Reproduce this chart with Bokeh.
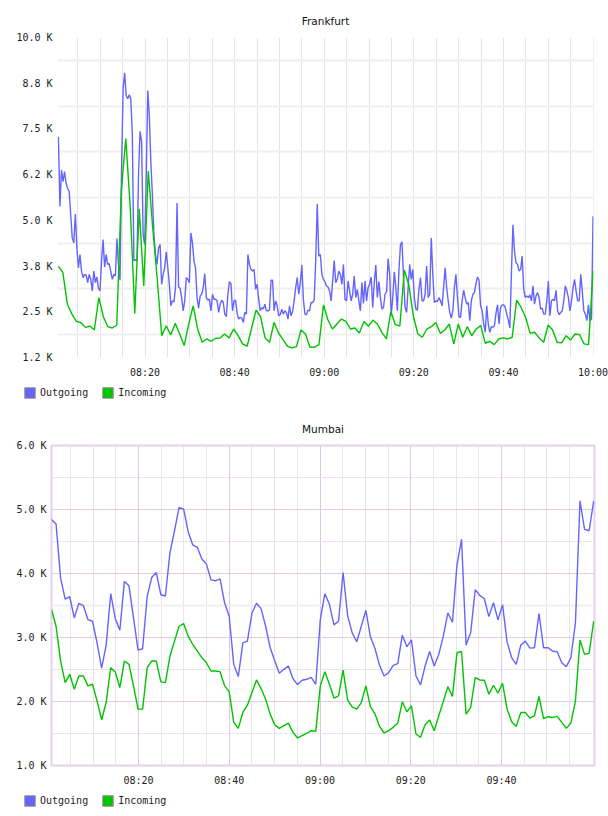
import numpy as np
import pandas as pd
from bokeh.plotting import figure
from bokeh.models import (Range1d, FixedTicker, DatetimeTickFormatter, Grid,
                          Legend, LegendItem)
from bokeh.embed import file_html
from bokeh.resources import INLINE

DAY = "2024-01-01"

# ---------------- data: Frankfurt ----------------
fra_outgoing = [
    7283, 5380, 6377, 6060, 6331, 6014, 5879, 5788, 5154, 4520,
    4384, 5172, 4248, 3705, 4067, 3614, 3433, 3524, 3505, 3297,
    3524, 3388, 3071, 3614, 3297, 3451, 3143, 3071, 3886, 4475,
    3723, 4067, 3795, 3813, 3596, 3388, 3524, 3478, 4502, 3795,
    3361, 6422, 8596, 9031, 8415, 8324, 8433, 8324, 7328, 3886,
    3931, 3886, 6241, 7437, 7147, 4610, 4339, 6151, 8551, 7871,
    6603, 5697, 4610, 4067, 3795, 4248, 4339, 3252, 3524, 3705,
    4139, 3705, 3252, 2663, 2799, 2772, 3161, 5471, 3179, 3143,
    2889, 2527, 2799, 3433, 3388, 3297, 4656, 4384, 3886, 3705,
    2889, 2600, 2935, 2980, 3161, 3542, 2889, 2817, 2844, 2527,
    2980, 2844, 2844, 2799, 2482, 2708, 2817, 2754, 2437, 2364,
    2980,
    3324, 3270, 2527, 2799, 2817, 2455, 2301, 2346, 2328, 2210,
    2482, 2437, 4067, 3795, 3659, 3614, 3659, 3116, 3252, 2844,
    2527, 2618, 2573, 2708, 2527, 2527, 2545, 3361, 3361, 2527,
    2799, 2663, 2391, 2418, 2573, 2437, 2527, 2482, 2301, 2663,
    2391, 2509, 2799, 3161, 3433, 2980, 3297, 3777, 2844, 2437,
    2418, 2545, 2527, 2754, 2754, 2817, 3886, 5444, 4022, 4067,
    3524, 3388, 3324, 3206, 3179, 3071, 2799, 3343, 3904, 3297,
    3388, 3614, 3524, 3252, 3795, 2844, 2799, 3343, 3071, 2799,
    2980, 3478, 2889, 3116, 2799, 2527, 3297, 2726, 3343, 2799,
    3161, 3252, 3451, 2618, 3297, 3777, 2889, 3324, 2889, 2573,
    2618, 2980, 3052, 3958, 3524, 2391, 2889, 3596, 3161, 2527,
    3614, 4339, 4411, 3433, 2618, 2482, 3161,
    3796, 3388, 3660, 2889, 2573, 2545, 3116, 3433, 2799, 2799,
    2980, 3750, 2889, 2980, 4520, 3524, 2754, 2799, 2781, 2889,
    2799, 2663, 3161, 3705, 3161, 2799, 2482, 2328, 2527, 3161,
    3524, 2889, 2364, 2346, 2799, 3089, 2889, 2708, 2754, 2256,
    2799, 2980, 3025, 3270, 3451, 3361, 2663, 2527, 2183, 1939,
    2663, 2165, 1939, 2093, 2074, 2120, 2455, 2690, 2165, 2618,
    2690, 2690, 2618, 2437, 2274, 2057, 3524, 4882, 4158, 3841,
    3796, 3614, 3660, 4022, 3116, 2889, 2935, 2889, 2962, 2799,
    3207, 2708, 2935, 3025, 2889, 2573, 2600, 2437, 2437, 2799,
    3343, 2391, 2799, 2844, 2799, 3089, 2527, 2418, 2482, 2527,
    2799, 3207, 3071, 2889, 2527, 2781, 3161, 3388, 3071, 2799,
    2799, 3524, 3071, 2527, 2437, 2256, 2690, 2256, 2301, 5109,
]
fra_incoming = [
    3750, 3569, 2708, 2437, 2237, 2201, 2074, 2110, 2002, 2889,
    2364, 2093, 2057, 2138, 5788, 7237, 5335, 2455, 5317, 3207,
    6350, 4792, 3388, 1848, 2120, 1866, 2183, 1893, 1576, 2165,
    2663, 2029, 1667, 1757, 1694, 1776, 1784, 1893, 1785, 2029,
    1848,
    1621, 1558, 2050, 2545, 2364, 1785, 1667, 2210, 1920, 1739,
    1558, 1513, 1549, 2002, 1893, 1531, 1531, 1603, 2690, 2274,
    2029, 2165, 2301, 2237, 2029, 2057, 1920, 2237, 2102, 2274,
    2165, 1939, 1757, 2509, 2147, 2110, 3641, 3234, 2391, 1893,
    1803, 2029, 2093, 2210, 1911, 2002, 2165, 1621, 2165, 1803,
    2093, 1848, 2029, 2120, 1640, 1694, 1603, 1757, 1785, 1757,
    1803, 2817, 2618, 2346, 1911, 1939, 1785, 1667, 2138, 2002,
    1667, 1649, 1848, 1730, 1893, 1875, 1621, 1603, 3614,
]

# ---------------- data: Mumbai ----------------
mum_outgoing = [
    4845, 4772, 3927, 3601, 3637, 3306, 3534, 3497, 3280, 3254,
    2917, 2523, 2881, 3684, 3295, 3114, 3876, 3808, 3306, 2803,
    2824, 3642, 3938, 4015, 3668, 3648, 4326, 4668, 5031, 5005,
    4653, 4446, 4409, 4228, 4150, 3901, 3886, 3917, 3539, 3332,
    2580, 2389, 2917, 2943, 3383, 3534, 3451, 3176, 2839, 2637,
    2440, 2503, 2554, 2357, 2264, 2332, 2347, 2378, 2269, 3280,
    3684, 3518, 3197, 3254, 4015, 3342, 3073, 2933, 3176, 3425,
    3010, 2829, 2565, 2399, 2451, 2565, 2591, 3036, 2855, 2964,
    2399, 2259, 2554, 2782, 2554, 2736, 3021, 3383, 3238, 4135,
    4534, 2881, 3073, 3746, 3658, 3606, 3326, 3544, 3275, 3513,
    2927, 2684, 2580, 2881, 2943, 2834, 2839, 3373, 2839, 2839,
    2788, 2777, 2606, 2544, 2684, 3228, 5135, 4689, 4668, 5130,
]
mum_incoming = [
    3435, 3176, 2632, 2295, 2425, 2192, 2399, 2399, 2244, 2269,
    2010, 1715, 1984, 2528, 2461, 2218, 2632, 2580, 2244, 1881,
    1881, 2528, 2632, 2632, 2306, 2295, 2710, 2943, 3176, 3218,
    3021, 2891, 2788, 2684, 2606, 2477, 2477, 2466, 2244, 2155,
    1673, 1580, 1829, 1943, 2140, 2337, 2202, 2036, 1803, 1637,
    1580, 1622, 1663, 1518, 1430, 1466, 1502, 1544, 1534, 2244,
    2466, 2269, 2052, 2088, 2492, 2021, 1917, 1881, 1984, 2244,
    1922, 1803, 1611, 1508, 1544, 1596, 1663, 1995, 1839, 1932,
    1492, 1440, 1637, 1710, 1544, 1777, 2000, 2233, 2078, 2762,
    2782, 1803, 1907, 2373, 2337, 2332, 2114, 2254, 2129, 2285,
    1881, 1684, 1611, 1829, 1829, 1741, 1777, 2078, 1731, 1762,
    1751, 1767, 1673, 1580, 1663, 2010, 2959, 2736, 2751, 3254,
]

# sample windows (first / last sample) and visible windows
fra_samples = ("08:00:40", "10:00:00")
fra_window = ("08:00:28", "10:00:06")
mum_samples = ("08:00:49", "10:00:19")
mum_window = ("08:00:49", "10:00:30")

fra_yticks = [1250, 2500, 3750, 5000, 6250, 7500, 8750, 10000]
fra_ylabels = ["1.2 K", "2.5 K", "3.8 K", "5.0 K", "6.2 K", "7.5 K", "8.8 K", "10.0 K"]
mum_yticks = [1000, 2000, 3000, 4000, 5000, 6000]
mum_ylabels = ["1.0 K", "2.0 K", "3.0 K", "4.0 K", "5.0 K", "6.0 K"]

series_names = ["Outgoing", "Incoming"]
series_colors = ["#6464ff", "#00c400"]

MONO = "DejaVu Sans Mono"
SANS = "DejaVu Sans"


def ts(s):
    return pd.Timestamp(f"{DAY} {s}")


def ms(t):
    return int(t.value // 10**6)


def times(window, n):
    return pd.date_range(ts(window[0]), ts(window[1]), periods=n)


def every(start, end, minutes):
    return [ms(t) for t in pd.date_range(ts(start), ts(end), freq=f"{minutes}min")]


def base_fig(title, window, ylo, yhi, left, right):
    p = figure(width=608, height=380, output_backend="svg", toolbar_location=None,
               x_axis_type="datetime",
               x_range=Range1d(ts(window[0]), ts(window[1])),
               y_range=Range1d(ylo, yhi),
               min_border_left=left, min_border_right=608 - right,
               min_border_top=37, min_border_bottom=22)
    p.title.text = title
    p.title.align = "center"
    p.title.text_font = SANS
    p.title.text_font_size = "10.5px"
    p.title.text_font_style = "normal"
    p.title.text_color = "#111111"
    p.title.standoff = 22
    p.background_fill_color = "white"
    p.border_fill_color = "white"
    for ax in (p.xaxis[0], p.yaxis[0]):
        ax.axis_line_color = None
        ax.major_tick_line_color = None
        ax.minor_tick_line_color = None
        ax.major_tick_out = 0
        ax.major_tick_in = 0
        ax.minor_tick_out = 0
        ax.minor_tick_in = 0
        ax.major_label_text_font = MONO
        ax.major_label_text_font_size = "10px"
        ax.major_label_text_color = "#222222"
    p.yaxis.major_label_standoff = 5
    p.xaxis.major_label_standoff = 9
    p.xaxis.formatter = DatetimeTickFormatter(
        seconds="%H:%M", minsec="%H:%M", minutes="%H:%M", hourmin="%H:%M",
        hours="%H:%M", days="%H:%M", months="%H:%M", years="%H:%M")
    p.xgrid.grid_line_color = None
    p.ygrid.grid_line_color = None
    return p


def legend_fig():
    # a strip that only carries the legend; its swatch glyphs sit outside the view
    q = figure(width=608, height=28, output_backend="svg", toolbar_location=None,
               x_axis_type=None, y_axis_type=None,
               x_range=Range1d(0, 1), y_range=Range1d(0, 1),
               min_border_left=0, min_border_right=0, min_border_top=0,
               min_border_bottom=0)
    q.outline_line_color = None
    q.grid.visible = False
    boxes = []
    for c in series_colors:
        boxes.append(q.quad(left=[-5], right=[-4], top=[-5], bottom=[-4],
                            fill_color=c, line_color="#8a8a8a", line_width=1))
    legend = Legend(items=[LegendItem(label=n, renderers=[r]) for n, r in zip(series_names, boxes)],
                    location=(23, 9), orientation="horizontal",
                    glyph_width=13, glyph_height=13, label_height=13, label_width=0,
                    label_standoff=4, spacing=13, padding=0, margin=0,
                    border_line_color=None, background_fill_alpha=0,
                    label_text_font=MONO, label_text_font_size="10px",
                    label_text_color="#222222")
    q.add_layout(legend)
    return q


def add_lines(p, x_out, y_out, x_in, y_in):
    p.line(x_out, y_out, line_color=series_colors[0], line_width=1.4)
    p.line(x_in, y_in, line_color=series_colors[1], line_width=1.4)


# ---------------- Frankfurt ----------------
p1 = base_fig("Frankfurt", fra_window, fra_yticks[0], fra_yticks[-1], 57, 593)
p1.yaxis.ticker = FixedTicker(ticks=fra_yticks)
p1.yaxis.major_label_overrides = dict(zip(fra_yticks, fra_ylabels))
p1.xaxis.ticker = FixedTicker(ticks=every("08:20", "10:00", 20))
p1.outline_line_color = None
p1.add_layout(Grid(dimension=0, ticker=FixedTicker(ticks=every("08:05", "10:00", 5)),
                   grid_line_color="#e4e4e4", grid_line_width=1))
fra_mid = [(a + b) / 2 for a, b in zip(fra_yticks[:-1], fra_yticks[1:])]
p1.add_layout(Grid(dimension=1, ticker=FixedTicker(ticks=fra_mid),
                   grid_line_color="#efefef", grid_line_width=2))
add_lines(p1, times(fra_samples, len(fra_outgoing)), fra_outgoing,
          times(fra_samples, len(fra_incoming)), fra_incoming)

# ---------------- Mumbai ----------------
p2 = base_fig("Mumbai", mum_window, mum_yticks[0], mum_yticks[-1], 51, 594)
p2.yaxis.ticker = FixedTicker(ticks=mum_yticks)
p2.yaxis.major_label_overrides = dict(zip(mum_yticks, mum_ylabels))
p2.xaxis.ticker = FixedTicker(ticks=every("08:20", "09:40", 20))
p2.outline_line_color = "#e4d2ea"
p2.outline_line_width = 2
major_x = every("08:20", "09:40", 20)
minor_x = [t for t in every("08:05", "09:55", 5) if t not in major_x]
p2.add_layout(Grid(dimension=0, ticker=FixedTicker(ticks=minor_x),
                   grid_line_color="#ebe3ed", grid_line_width=1))
p2.add_layout(Grid(dimension=0, ticker=FixedTicker(ticks=major_x),
                   grid_line_color="#dcc8e2", grid_line_width=1))
p2.add_layout(Grid(dimension=1, ticker=FixedTicker(ticks=[1500, 2500, 4500, 5500]),
                   grid_line_color="#ebe3ed", grid_line_width=1))
p2.add_layout(Grid(dimension=1, ticker=FixedTicker(ticks=[3500]),
                   grid_line_color="#efefef", grid_line_width=2))
p2.add_layout(Grid(dimension=1, ticker=FixedTicker(ticks=mum_yticks[1:-1]),
                   grid_line_color="#e2cce6", grid_line_width=1))
add_lines(p2, times(mum_samples, len(mum_outgoing)), mum_outgoing,
          times(mum_samples, len(mum_incoming)), mum_incoming)

roots = [p1, legend_fig(), p2, legend_fig()]
open("out.html", "w").write(file_html(roots, INLINE))
